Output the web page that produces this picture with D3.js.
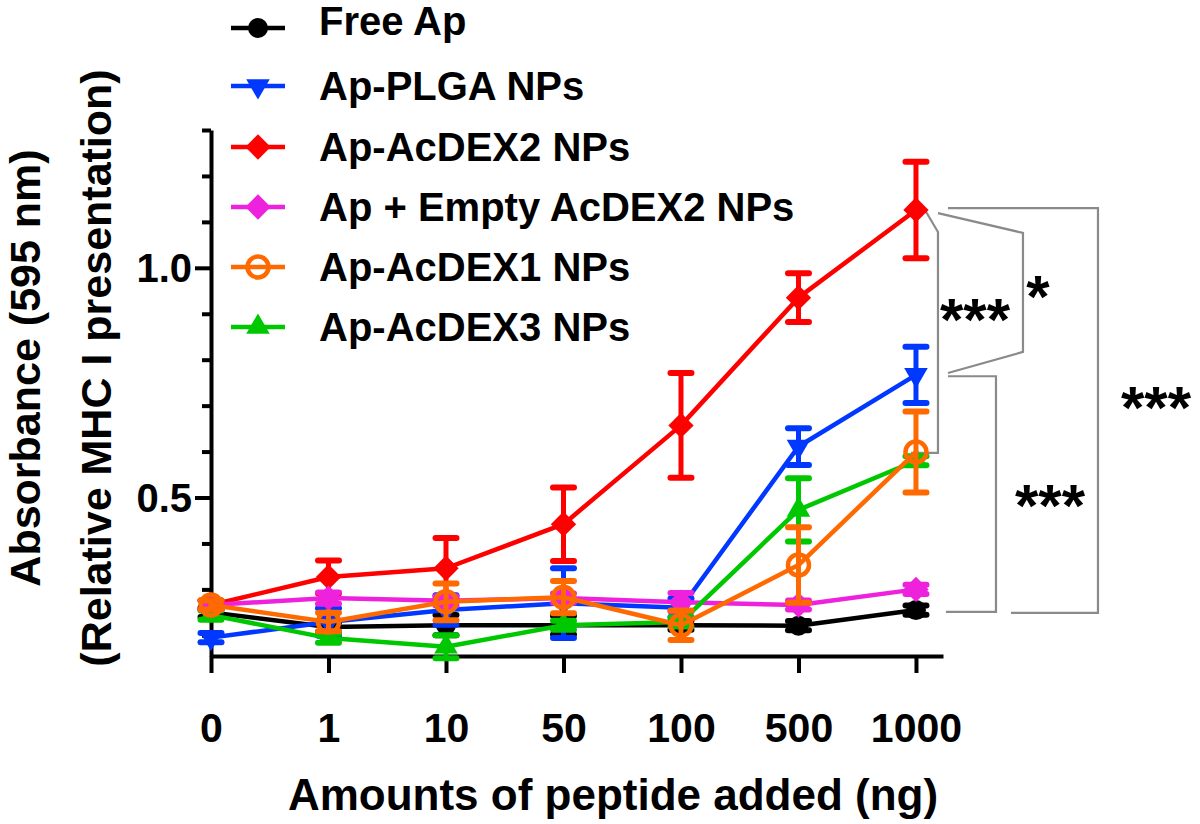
<!DOCTYPE html>
<html>
<head>
<meta charset="utf-8">
<script src="https://cdn.jsdelivr.net/npm/d3@7"></script>
<style>
  html, body { margin: 0; padding: 0; background: #fff; }
  svg { display: block; }
  text { font-family: "Liberation Sans", Arial, Helvetica, sans-serif; font-weight: bold; fill: #000; }
</style>
</head>
<body>
<svg id="chart" width="1200" height="824"></svg>
<script>
// ---------- data ----------
const categories = ["0", "1", "10", "50", "100", "500", "1000"];

const seriesNames = ["Free Ap", "Ap-PLGA NPs", "Ap-AcDEX2 NPs", "Ap + Empty AcDEX2 NPs", "Ap-AcDEX1 NPs", "Ap-AcDEX3 NPs"];

const freeAp        = [0.250, 0.218, 0.222, 0.222, 0.222, 0.221, 0.255];
const freeApErr     = [0.010, 0.010, 0.022, 0.020, 0.010, 0.010, 0.010];

const plga          = [0.195, 0.229, 0.255, 0.270, 0.260, 0.611, 0.767];
const plgaErr       = [0.010, 0.030, 0.032, 0.076, 0.020, 0.040, 0.061];

const acdex2        = [0.266, 0.327, 0.346, 0.442, 0.657, 0.935, 1.126];
const acdex2Err     = [0.010, 0.036, 0.066, 0.080, 0.114, 0.053, 0.105];

const emptyAcdex2   = [0.266, 0.281, 0.275, 0.281, 0.272, 0.266, 0.300];
const emptyAcdex2Err= [0.010, 0.012, 0.010, 0.010, 0.020, 0.010, 0.010];

const acdex1        = [0.266, 0.229, 0.273, 0.283, 0.222, 0.353, 0.599];
const acdex1Err     = [0.010, 0.020, 0.040, 0.035, 0.032, 0.082, 0.088];

const acdex3        = [0.244, 0.194, 0.175, 0.222, 0.229, 0.473, 0.580];
const acdex3Err     = [0.010, 0.010, 0.025, 0.010, 0.010, 0.069, 0.010];

const yTicks = [0.2, 0.3, 0.4, 0.5, 0.6, 0.7, 0.8, 0.9, 1.0, 1.1, 1.2, 1.3];
const yTickLabels = { "0.5": "0.5", "1.0": "1.0" };

const sigLabels = ["***", "*", "***", "***"];

// ---------- setup ----------
const colors = ["#000000", "#0038ff", "#ff0000", "#ee22dd", "#ff6a00", "#00c800"];
const markers = ["circle", "triDown", "diamond", "diamond", "openCircle", "triUp"];
const values = [freeAp, plga, acdex2, emptyAcdex2, acdex1, acdex3];
const errors = [freeApErr, plgaErr, acdex2Err, emptyAcdex2Err, acdex1Err, acdex3Err];

const series = seriesNames.map((name, i) => ({
  name, color: colors[i], marker: markers[i],
  points: categories.map((c, j) => ({ i: j, v: values[i][j], e: errors[i][j] }))
}));

const svg = d3.select("#chart");
const x = d3.scaleLinear().domain([0, 6.23]).range([211, 943]);
const y = d3.scaleLinear().domain([0.155, 1.3]).range([656, 130]);

// ---------- significance brackets (drawn under data) ----------
const gx = x(6);
const starSize = 60;
const brackets = [
  { pts: [[9, 1.126], [22, 1.078], [22, 0.597], [-5, 0.597]], label: sigLabels[0], lx: 59, ly: 0.919 },
  { pts: [[22, 1.119], [107, 1.076], [107, 0.817], [32, 0.771]], label: sigLabels[1], lx: 122, ly: 0.967 },
  { pts: [[32, 0.764], [80, 0.764], [80, 0.251], [30, 0.251]], label: sigLabels[2], lx: 134, ly: 0.512 },
  { pts: [[32, 1.130], [182, 1.130], [182, 0.249], [95, 0.249]], label: sigLabels[3], lx: 240, ly: 0.727 }
];
const bl = d3.line().x(d => gx + d[0]).y(d => y(d[1]));
const bg = svg.append("g");
brackets.forEach(b => {
  bg.append("path").attr("d", bl(b.pts)).attr("fill", "none")
    .attr("stroke", "#8a8a8a").attr("stroke-width", 2.2);
  bg.append("text").attr("x", gx + b.lx).attr("y", y(b.ly) + 0.575 * starSize)
    .attr("text-anchor", "middle").attr("font-size", starSize).text(b.label);
});

// ---------- axes ----------
const xAxis = d3.axisBottom(x).tickValues(d3.range(categories.length))
  .tickFormat(i => categories[i]).tickSizeInner(17).tickSizeOuter(0);
const gX = svg.append("g").attr("transform", "translate(0,656)").call(xAxis);
gX.select(".domain").attr("stroke", "#000").attr("stroke-width", 4);
gX.selectAll(".tick line").attr("stroke", "#000").attr("stroke-width", 4);
gX.selectAll(".tick text").attr("y", 86).attr("dy", 0)
  .attr("font-size", 41).attr("font-family", null).attr("fill", "#000");

const yAxis = d3.axisLeft(y).tickValues(yTicks)
  .tickFormat(d => yTickLabels[d.toFixed(1)] || "").tickSizeInner(15).tickSizeOuter(0).tickPadding(4);
const gY = svg.append("g").attr("transform", "translate(211,0)").call(yAxis);
gY.select(".domain").attr("stroke", "#000").attr("stroke-width", 4);
gY.selectAll(".tick line").attr("stroke", "#000").attr("stroke-width", 4)
  .attr("x2", d => yTickLabels[d.toFixed(1)] ? -16 : -9);
gY.selectAll(".tick text").attr("dy", 14).attr("font-size", 40)
  .attr("font-family", null).attr("fill", "#000");

// axis titles
svg.append("text").attr("x", 613).attr("y", 810).attr("text-anchor", "middle")
  .attr("font-size", 44).text("Amounts of peptide added (ng)");
svg.append("text").attr("transform", "translate(40,368) rotate(-90)")
  .attr("text-anchor", "middle").attr("font-size", 43).text("Absorbance (595 nm)");
svg.append("text").attr("transform", "translate(111,368) rotate(-90)")
  .attr("text-anchor", "middle").attr("font-size", 43).text("(Relative MHC I presentation)");

// ---------- markers ----------
function drawMarker(g, type, color, cx, cy) {
  if (type === "circle") {
    g.append("circle").attr("cx", cx).attr("cy", cy).attr("r", 10).attr("fill", color);
  } else if (type === "openCircle") {
    g.append("circle").attr("cx", cx).attr("cy", cy).attr("r", 10.5)
      .attr("fill", "none").attr("stroke", color).attr("stroke-width", 4.5);
  } else if (type === "diamond") {
    g.append("path").attr("d", d3.symbol().type(d3.symbolSquare).size(320)())
      .attr("transform", `translate(${cx},${cy}) rotate(45)`).attr("fill", color);
  } else if (type === "triUp") {
    g.append("path").attr("d", d3.symbol().type(d3.symbolTriangle).size(240)())
      .attr("transform", `translate(${cx},${cy})`).attr("fill", color);
  } else if (type === "triDown") {
    g.append("path").attr("d", d3.symbol().type(d3.symbolTriangle).size(240)())
      .attr("transform", `translate(${cx},${cy}) rotate(180)`).attr("fill", color);
  }
}

// ---------- data series ----------
const drawOrder = [0, 1, 2, 3, 5, 4];
const line = d3.line().x(d => x(d.i)).y(d => y(d.v));
drawOrder.forEach(k => {
  const s = series[k];
  const g = svg.append("g");
  g.append("path").attr("d", line(s.points)).attr("fill", "none")
    .attr("stroke", s.color).attr("stroke-width", 4.5).attr("stroke-linejoin", "round");
  s.points.forEach(p => {
    const px = x(p.i), y0 = y(p.v - p.e), y1 = y(p.v + p.e);
    g.append("line").attr("x1", px).attr("x2", px).attr("y1", y0).attr("y2", y1)
      .attr("stroke", s.color).attr("stroke-width", 5);
    [y0, y1].forEach(yy => g.append("line").attr("x1", px - 10.5).attr("x2", px + 10.5)
      .attr("y1", yy).attr("y2", yy).attr("stroke", s.color).attr("stroke-width", 6)
      .attr("stroke-linecap", "round"));
  });
  s.points.forEach(p => drawMarker(g, s.marker, s.color, x(p.i), y(p.v)));
});

// ---------- legend ----------
const legendY = [28, 86, 147, 207, 267, 327];
const legendTextY = [35, 100, 161, 221, 281, 341];
const lg = svg.append("g");
series.forEach((s, i) => {
  lg.append("line").attr("x1", 231).attr("x2", 285).attr("y1", legendY[i]).attr("y2", legendY[i])
    .attr("stroke", s.color).attr("stroke-width", 4.5);
  drawMarker(lg, s.marker, s.color, 258, legendY[i]);
  lg.append("text").attr("x", 319).attr("y", legendTextY[i]).attr("font-size", 40).text(s.name);
});
</script>
</body>
</html>
